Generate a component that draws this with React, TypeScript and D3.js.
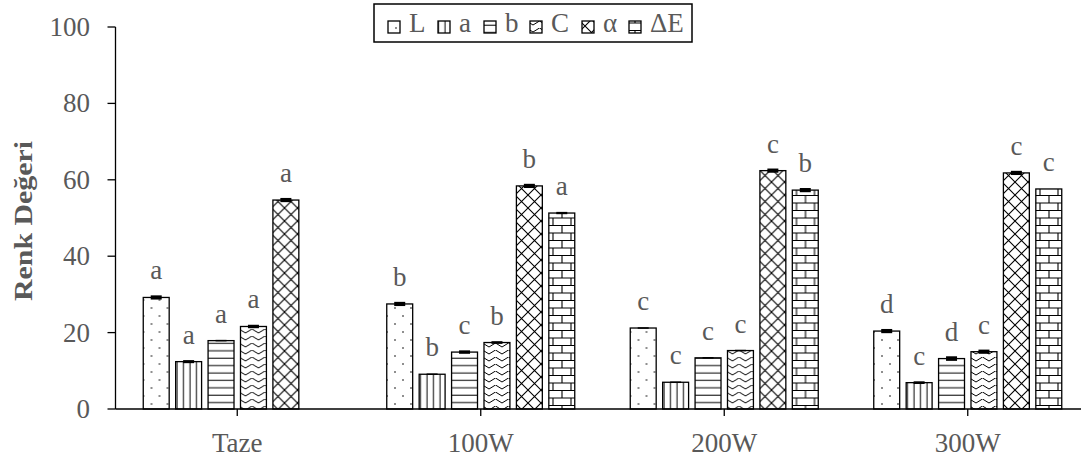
import React from "react";
import * as d3 from "d3";

const categories = ["Taze", "100W", "200W", "300W"];
const seriesNames = ["L", "a", "b", "C", "α", "ΔE"];
const valuesL = [29.2, 27.5, 21.2, 20.4];
const valuesA = [12.4, 9.1, 7.0, 6.9];
const valuesB = [17.9, 14.9, 13.4, 13.2];
const valuesC = [21.6, 17.4, 15.3, 15.0];
const valuesAlpha = [54.7, 58.4, 62.4, 61.8];
const valuesDeltaE: (number | null)[] = [null, 51.3, 57.3, 57.6];
const errL = [0.55, 0.55, 0.2, 0.55];
const errA = [0.4, 0.2, 0.2, 0.35];
const errB = [0.2, 0.45, 0.2, 0.6];
const errC = [0.45, 0.35, 0.2, 0.55];
const errAlpha = [0.55, 0.55, 0.55, 0.55];
const errDeltaE = [0, 0.3, 0.55, 0];
const lettersL = ["a", "b", "c", "d"];
const lettersA = ["a", "b", "c", "c"];
const lettersB = ["a", "c", "c", "d"];
const lettersC = ["a", "b", "c", "c"];
const lettersAlpha = ["a", "b", "c", "c"];
const lettersDeltaE = ["", "a", "b", "c"];
const yTicks = [0, 20, 40, 60, 80, 100];

const seriesValues = [valuesL, valuesA, valuesB, valuesC, valuesAlpha, valuesDeltaE];
const seriesErr = [errL, errA, errB, errC, errAlpha, errDeltaE];
const seriesLetters = [lettersL, lettersA, lettersB, lettersC, lettersAlpha, lettersDeltaE];
const patternIds = ["pDots", "pVert", "pHoriz", "pZig", "pDiam", "pBrick"];
const legendTextWidths = [16, 12, 12, 18, 13, 34];

const W = 1081;
const H = 463;
const FONT = "'Liberation Serif', 'Times New Roman', serif";
const GRAY = "#595959";

export default function App() {
  const y = d3.scaleLinear().domain([0, 100]).range([409, 27]);
  const x0 = d3.scaleBand<string>().domain(categories).range([115.5, 1089.5]).padding(0);
  const groupW = 188;
  const off = (x0.bandwidth() - groupW) / 2;
  const x1 = d3
    .scaleBand<string>()
    .domain(seriesNames)
    .range([off, off + groupW])
    .paddingInner(0.2)
    .paddingOuter(0);

  const legendItems: { x: number; tx: number }[] = [];
  let cx = 388;
  seriesNames.forEach((_, i) => {
    legendItems.push({ x: cx, tx: cx + 21 });
    cx += 12 + 9 + legendTextWidths[i] + 13;
  });

  return (
    <svg
      width={W}
      height={H}
      style={{ position: "absolute", left: 0, top: 0, background: "#fff" }}
      fontFamily={FONT}
    >
      <defs>
        <pattern id="pDots" patternUnits="userSpaceOnUse" width={16} height={16}>
          <rect width={16} height={16} fill="#fff" />
          <circle cx={4} cy={4} r={0.8} fill="#000" />
          <circle cx={12} cy={12} r={0.8} fill="#000" />
        </pattern>
        <pattern id="pVert" patternUnits="userSpaceOnUse" width={6.5} height={10}>
          <rect width={6.5} height={10} fill="#fff" />
          <line x1={3} y1={0} x2={3} y2={10} stroke="#000" strokeWidth={1} />
        </pattern>
        <pattern id="pHoriz" patternUnits="userSpaceOnUse" width={10} height={7.4}>
          <rect width={10} height={7.4} fill="#fff" />
          <line x1={0} y1={3} x2={10} y2={3} stroke="#000" strokeWidth={1} />
        </pattern>
        <pattern id="pZig" patternUnits="userSpaceOnUse" width={13} height={7}>
          <rect width={13} height={7} fill="#fff" />
          <path d="M-3.25,1.5 L0,4 L6.5,0 L13,4 L16.25,1.5" fill="none" stroke="#000" strokeWidth={1} />
        </pattern>
        <pattern id="pDiam" patternUnits="userSpaceOnUse" width={13} height={13}>
          <rect width={13} height={13} fill="#fff" />
          <path d="M0,0 L13,13 M13,0 L0,13" fill="none" stroke="#000" strokeWidth={1.1} />
        </pattern>
        <pattern id="pBrick" patternUnits="userSpaceOnUse" width={18} height={15}>
          <rect width={18} height={15} fill="#fff" />
          <path d="M0,0.5 H18 M0,8 H18 M5,0.5 V8 M14,8 V15" fill="none" stroke="#000" strokeWidth={1.1} />
        </pattern>
      </defs>

      {/* y axis */}
      <line x1={115.5} x2={115.5} y1={y(100)} y2={y(0)} stroke="#000" strokeWidth={1.3} />
      {yTicks.map((t) => (
        <g key={t}>
          <line x1={107.5} x2={115.5} y1={y(t)} y2={y(t)} stroke="#000" strokeWidth={1.3} />
          <text
            x={90}
            y={y(t)}
            textAnchor="end"
            dominantBaseline="central"
            fontSize={27}
            fill={GRAY}
          >
            {t}
          </text>
        </g>
      ))}
      <text
        transform={`translate(32, 221) rotate(-90)`}
        textAnchor="middle"
        fontSize={26}
        fontWeight="bold"
        fill={GRAY}
        textLength={160}
        lengthAdjust="spacingAndGlyphs"
      >
        Renk Değeri
      </text>

      {/* bars */}
      {categories.map((cat, ci) => (
        <g key={cat} transform={`translate(${x0(cat)},0)`}>
          {seriesNames.map((s, si) => {
            const v = seriesValues[si][ci];
            if (v === null || v === undefined) return null;
            const e = seriesErr[si][ci];
            const bx = x1(s)!;
            const bw = x1.bandwidth();
            return (
              <g key={s}>
                <rect
                  x={bx}
                  y={y(v)}
                  width={bw}
                  height={y(0) - y(v)}
                  fill={`url(#${patternIds[si]})`}
                  stroke="#000"
                  strokeWidth={1.3}
                />
                {e > 0 && (
                  <rect
                    x={bx + bw / 2 - 5.5}
                    y={y(v + e)}
                    width={11}
                    height={Math.max(1.5, y(v - e) - y(v + e))}
                    fill="#000"
                  />
                )}
                <text
                  x={bx + bw / 2}
                  y={y(v) - 18}
                  textAnchor="middle"
                  fontSize={27}
                  fill={GRAY}
                >
                  {seriesLetters[si][ci]}
                </text>
              </g>
            );
          })}
        </g>
      ))}

      {/* x axis */}
      <line x1={115.5} x2={W} y1={y(0)} y2={y(0)} stroke="#000" strokeWidth={1.3} />
      {categories.map((cat) => {
        const cxp = x0(cat)! + x0.bandwidth() / 2;
        return (
          <g key={cat}>
            <line x1={cxp} x2={cxp} y1={y(0)} y2={y(0) + 7} stroke="#000" strokeWidth={1.3} />
            <text x={cxp} y={452} textAnchor="middle" fontSize={27} fill={GRAY}>
              {cat}
            </text>
          </g>
        );
      })}

      {/* legend */}
      <rect x={374} y={4} width={318} height={38} fill="#fff" stroke="#000" strokeWidth={1.5} />
      {seriesNames.map((s, i) => (
        <g key={s}>
          <rect
            x={legendItems[i].x}
            y={21}
            width={12}
            height={12}
            fill={`url(#${patternIds[i]})`}
            stroke="#000"
            strokeWidth={1.3}
          />
          <text x={legendItems[i].tx} y={32} fontSize={27} fill={GRAY}>
            {s}
          </text>
        </g>
      ))}
    </svg>
  );
}
